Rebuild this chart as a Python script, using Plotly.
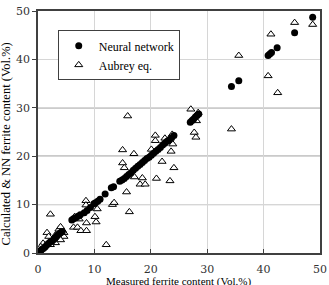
import plotly.graph_objects as go

# Neural network predictions (measured, calculated)
nn_x = [0.1, 0.3, 0.5, 0.7, 1.0, 1.3, 1.6, 1.9, 2.2, 2.5, 2.8, 3.1, 3.4, 3.7, 4.0, 4.3,
        6.0, 6.3, 6.7, 7.1, 7.5, 8.2, 8.7, 9.3, 9.9, 10.2, 10.6, 11.0, 11.9, 13.0, 13.4,
        14.5, 14.9, 15.3, 15.7, 16.1, 16.5, 16.9, 17.3, 17.7, 18.1, 18.5, 18.9, 19.3, 19.7,
        20.1, 20.5, 20.9, 21.3, 21.7, 22.1, 22.5, 22.9, 23.3, 23.7, 24.1,
        27.0, 27.3, 27.6, 27.9, 28.2, 28.5,
        34.3, 35.6, 40.8, 41.1, 41.4, 42.4, 45.5, 48.7]
nn_y = [0.1, 0.3, 0.5, 0.8, 1.0, 1.3, 1.7, 2.0, 2.3, 2.5, 2.8, 3.2, 3.6, 3.9, 4.2, 4.4,
        6.8, 7.1, 7.3, 7.6, 7.9, 8.3, 8.8, 9.4, 10.2, 10.4, 10.7, 11.1, 12.2, 13.5, 13.7,
        14.8, 15.1, 15.4, 15.8, 16.2, 16.6, 17.1, 17.5, 17.9, 18.3, 18.7, 19.1, 19.5, 19.8,
        20.2, 20.6, 21.0, 21.4, 21.8, 22.3, 22.7, 23.1, 23.4, 23.8, 24.3,
        27.0, 27.4, 27.7, 28.1, 28.4, 28.7,
        34.4, 35.6, 40.8, 41.1, 41.4, 42.4, 45.5, 48.7]

# Aubrey equation predictions (measured, calculated)
au_x = [48.7, 45.5, 41.3, 35.6, 40.8, 42.5, 34.3,
        27.1, 28.4, 28.1, 27.7, 28.0,
        15.9, 20.8, 20.8, 22.5, 23.8, 23.9, 23.6, 20.1, 15.0, 17.0,
        15.0, 15.3, 22.0, 24.1, 17.1, 18.5, 18.1, 19.0, 21.0, 23.4, 15.7,
        13.2, 13.5, 16.2, 8.5, 8.5, 10.5, 10.1, 10.3, 8.6, 6.5, 7.3,
        6.3, 7.0, 7.6, 8.6, 12.1, 2.2,
        1.6, 1.9, 3.1, 3.7, 4.3, 4.6, 4.0, 3.1, 0.9, 0.5, 2.2, 4.6, 4.0]
au_y = [47.2, 47.6, 45.2, 40.8, 36.6, 33.1, 25.6,
        29.7, 29.0, 27.3, 24.9, 23.9,
        28.3, 24.3, 23.2, 23.7, 24.5, 22.5, 21.0, 21.4, 21.3, 20.5,
        18.6, 17.6, 18.9, 17.6, 15.7, 15.5, 14.2, 14.2, 15.4, 14.9, 12.6,
        10.0, 10.4, 8.5, 10.8, 9.9, 9.1, 7.5, 6.4, 6.2, 7.5, 7.0,
        5.3, 5.3, 4.6, 4.6, 1.7, 8.0,
        4.2, 3.4, 3.7, 4.9, 4.8, 3.4, 2.7, 2.1, 2.0, 1.3, 1.7, 4.2, 5.4]

tick_vals = [0, 10, 20, 30, 40, 50]
dark_grid_y = [10, 20, 30]
x_title = "Measured ferrite content (Vol.%)"
y_title = "Calculated & NN ferrite content (Vol.%)"

serif = "Liberation Serif"
tickfont = dict(family="DejaVu Serif", size=11, color="#333333")

fig = go.Figure()
fig.add_trace(go.Scatter(
    x=au_x, y=au_y, mode="markers", name="Aubrey eq.",
    marker=dict(symbol="triangle-up", size=7, color="white",
                line=dict(color="black", width=1)),
))
fig.add_trace(go.Scatter(
    x=nn_x, y=nn_y, mode="markers", name="Neural network",
    marker=dict(symbol="circle", size=7, color="black", line=dict(width=0)),
))

for yv in dark_grid_y:
    fig.add_shape(type="line", xref="paper", yref="y", x0=0, x1=1, y0=yv, y1=yv,
                  line=dict(color="#555555", width=1), layer="between")

# axis titles placed as in the original figure
fig.add_annotation(text=y_title, xref="paper", yref="paper", x=-0.112, y=0.5,
                   xanchor="center", yanchor="middle", textangle=-90, yshift=-12,
                   showarrow=False, font=dict(family=serif, size=12.5, color="black"))
fig.add_annotation(text=x_title, xref="paper", yref="paper", x=0.5, y=-0.1322,
                   xanchor="center", yanchor="bottom", yshift=-4,
                   showarrow=False, borderpad=0,
                   font=dict(family=serif, size=11, color="black"))

axis_common = dict(
    range=[0, 50], tickvals=tick_vals, showgrid=True, gridcolor="#d6d6d6",
    gridwidth=1, zeroline=False, showline=True, linecolor="#404040",
    linewidth=1.5, mirror=True, tickcolor="#404040", ticklen=4, tickwidth=1,
    tickfont=tickfont, automargin=False,
)

fig.update_layout(
    width=329, height=285,
    margin=dict(l=38, r=9, t=11, b=32),
    paper_bgcolor="white", plot_bgcolor="white",
    showlegend=True,
    legend=dict(
        x=0.07, y=0.92, xanchor="left", yanchor="top",
        bgcolor="white", bordercolor="#404040", borderwidth=1,
        font=dict(family=serif, size=12, color="black"),
        traceorder="reversed", itemwidth=30, tracegroupgap=0,
    ),
    xaxis=dict(**axis_common, ticks="inside", ticklabelstandoff=5),
    yaxis=dict(**axis_common, ticks="outside"),
)

fig.write_html("out.html")
